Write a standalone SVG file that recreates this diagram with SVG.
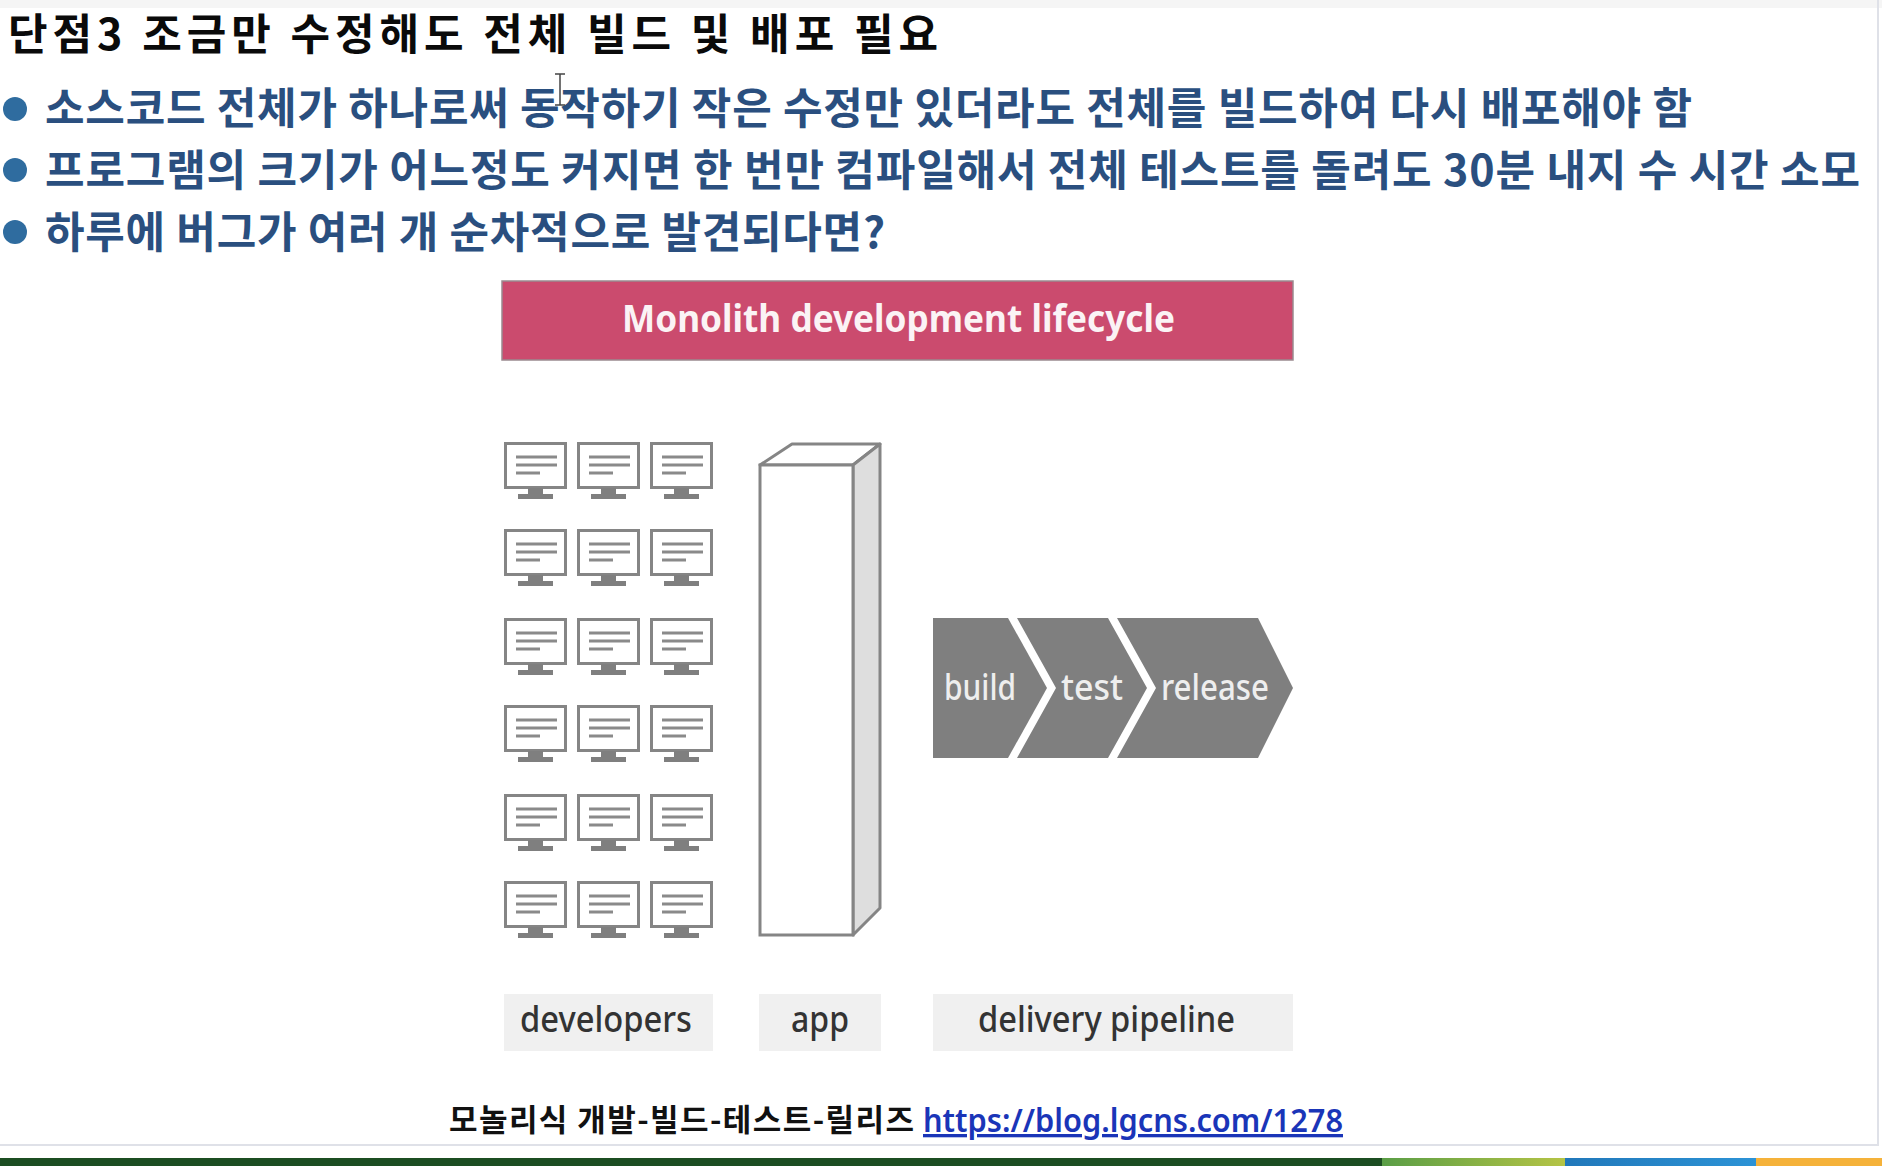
<svg xmlns="http://www.w3.org/2000/svg" width="1882" height="1174" viewBox="0 0 1882 1174">
<style>
.k{font-family:"Noto Sans CJK KR","Liberation Sans",sans-serif}
.h{font-size:43px;fill:#0a0a0a;font-weight:700}
.b{font-size:43px;fill:#2a4f7f;font-weight:700}
.l{font-family:"Noto Sans","Liberation Sans",sans-serif;font-size:36px;fill:#333;font-weight:500}
.p{font-family:"Noto Sans","Liberation Sans",sans-serif;font-size:36px;fill:#eee;font-weight:500}
.m{fill:#fff;stroke:#858585;stroke-width:3}
.ln{stroke:#8a8a8a;stroke-width:3;fill:none}
.st{fill:#7f7f7f}
</style>
<defs>
<g id="pc">
<rect class="m" x="1.5" y="1.5" width="60" height="44"/>
<path class="ln" d="M12 15H53M12 23H53M12 31H36"/>
<rect class="st" x="24" y="46" width="15" height="7"/>
<rect class="st" x="14" y="52" width="35" height="5"/>
</g>
<linearGradient id="gg"><stop offset="0" stop-color="#5a9e46"/><stop offset="1" stop-color="#b5c445"/></linearGradient>
<linearGradient id="bg"><stop offset="0" stop-color="#2178ba"/><stop offset="1" stop-color="#2c93d6"/></linearGradient>
</defs>
<rect width="1882" height="1174" fill="#fff"/>
<rect width="1882" height="8" fill="#f5f5f5"/>
<path d="M1878 0V1145H0" fill="none" stroke="#dfe1e8" stroke-width="2"/>
<g id="title"><text class="k h" x="8" y="50" textLength="930" lengthAdjust="spacing">단점3 조금만 수정해도 전체 빌드 및 배포 필요</text></g>
<g id="bullets">
<circle cx="15" cy="109" r="12" fill="#2f6c9f"/>
<circle cx="15" cy="170" r="12" fill="#2f6c9f"/>
<circle cx="15" cy="232" r="12" fill="#2f6c9f"/>
<text class="k b" x="45" y="124" textLength="1647" lengthAdjust="spacing">소스코드 전체가 하나로써 동작하기 작은 수정만 있더라도 전체를 빌드하여 다시 배포해야 함</text>
<text class="k b" x="45" y="186" textLength="1815" lengthAdjust="spacing">프로그램의 크기가 어느정도 커지면 한 번만 컴파일해서 전체 테스트를 돌려도 30분 내지 수 시간 소모</text>
<text class="k b" x="45" y="248" textLength="840" lengthAdjust="spacing">하루에 버그가 여러 개 순차적으로 발견되다면?</text>
</g>
<g id="cursor"><path d="M555 74H565M560 74V105M555 105H565" fill="none" stroke="#444" stroke-width="1.5"/></g>
<g id="banner">
<rect x="502" y="281" width="791" height="79" fill="#cb4b6e" stroke="#9a8a90" stroke-width="1.5"/>
<text x="622" y="332" font-family="'Noto Sans','Liberation Sans',sans-serif" font-weight="700" font-size="37" fill="#fbf3f5" textLength="553" lengthAdjust="spacingAndGlyphs">Monolith development lifecycle</text>
</g>
<g id="developers">
<use href="#pc" x="504" y="442"/><use href="#pc" x="577" y="442"/><use href="#pc" x="650" y="442"/>
<use href="#pc" x="504" y="529"/><use href="#pc" x="577" y="529"/><use href="#pc" x="650" y="529"/>
<use href="#pc" x="504" y="618"/><use href="#pc" x="577" y="618"/><use href="#pc" x="650" y="618"/>
<use href="#pc" x="504" y="705"/><use href="#pc" x="577" y="705"/><use href="#pc" x="650" y="705"/>
<use href="#pc" x="504" y="794"/><use href="#pc" x="577" y="794"/><use href="#pc" x="650" y="794"/>
<use href="#pc" x="504" y="881"/><use href="#pc" x="577" y="881"/><use href="#pc" x="650" y="881"/>
</g>
<g id="app">
<path d="M760 465L792 444H880L853 465Z" fill="#fff" stroke="#858585" stroke-width="3" stroke-linejoin="round"/>
<path d="M853 465L880 444V908L853 935Z" fill="#dedede" stroke="#858585" stroke-width="3" stroke-linejoin="round"/>
<rect x="760" y="465" width="93" height="470" fill="#fff" stroke="#858585" stroke-width="3"/>
</g>
<g id="pipeline">
<path class="st" d="M933 618H1008L1047 688L1008 758H933Z"/>
<path class="st" d="M1017 618H1108L1147 688L1108 758H1017L1056 688Z"/>
<path class="st" d="M1117 618H1258L1293 688L1258 758H1117L1156 688Z"/>
<text class="p" x="944" y="700" textLength="72" lengthAdjust="spacingAndGlyphs">build</text>
<text class="p" x="1061" y="700" textLength="62" lengthAdjust="spacingAndGlyphs">test</text>
<text class="p" x="1161" y="700" textLength="108" lengthAdjust="spacingAndGlyphs">release</text>
</g>
<g id="labels">
<rect x="504" y="994" width="209" height="57" fill="#f0f0f0"/>
<rect x="759" y="994" width="122" height="57" fill="#f0f0f0"/>
<rect x="933" y="994" width="360" height="57" fill="#f0f0f0"/>
<text class="l" x="520" y="1032" textLength="172" lengthAdjust="spacingAndGlyphs">developers</text>
<text class="l" x="791" y="1032" textLength="58" lengthAdjust="spacingAndGlyphs">app</text>
<text class="l" x="978" y="1032" textLength="257" lengthAdjust="spacingAndGlyphs">delivery pipeline</text>
</g>
<g id="caption">
<text class="k" x="449" y="1131" font-size="31" font-weight="700" fill="#111" textLength="465" lengthAdjust="spacing">모놀리식 개발-빌드-테스트-릴리즈</text>
<text x="923" y="1132" font-family="'Noto Sans','Liberation Sans',sans-serif" font-size="33" font-weight="600" fill="#1a35b8" text-decoration="underline" textLength="420" lengthAdjust="spacingAndGlyphs">https://blog.lgcns.com/1278</text>
</g>
<g id="stripe">
<rect x="0" y="1158" width="1382" height="8" fill="#1c4d22"/>
<rect x="1382" y="1158" width="183" height="8" fill="url(#gg)"/>
<rect x="1565" y="1158" width="191" height="8" fill="url(#bg)"/>
<rect x="1756" y="1158" width="126" height="8" fill="#f5b23a"/>
</g>
</svg>
